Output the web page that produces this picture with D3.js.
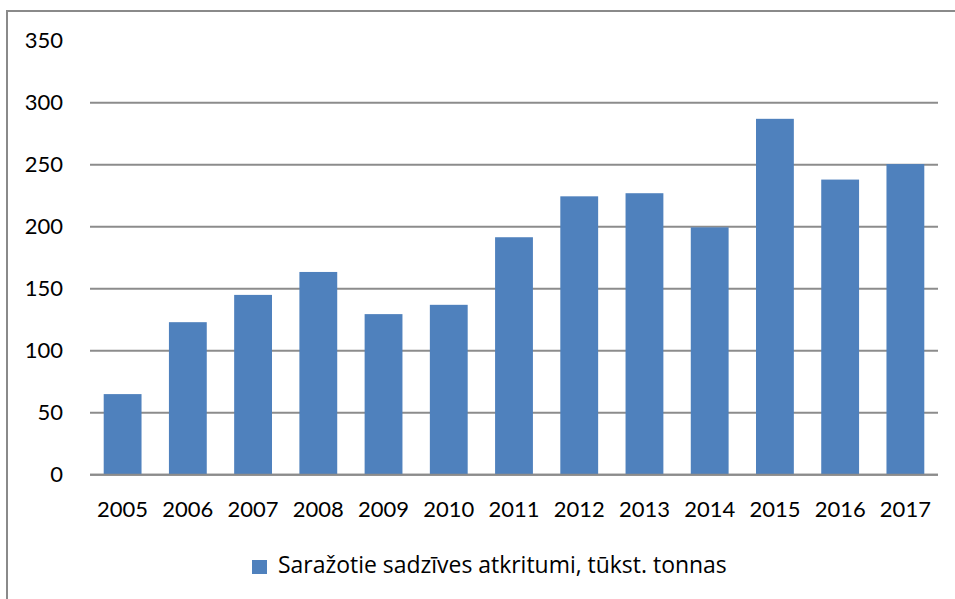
<!DOCTYPE html>
<html>
<head>
<meta charset="utf-8">
<script src="https://cdn.jsdelivr.net/npm/d3@7"></script>
<style>
  body { margin: 0; background: #fff; }
  svg text { font-family: Lato, "Open Sans", sans-serif; fill: #000; }
</style>
</head>
<body>
<svg id="chart" width="955" height="599"></svg>
<script>
// datos
var years = ["2005", "2006", "2007", "2008", "2009", "2010", "2011", "2012", "2013", "2014", "2015", "2016", "2017"];
var values = [65, 123, 145, 163.5, 129.5, 137, 191.5, 224.5, 227, 199.5, 287, 238, 250.5];
var yTicks = [0, 50, 100, 150, 200, 250, 300, 350];
var seriesName = "Saražotie sadzīves atkritumi, tūkst. tonnas";

var svg = d3.select("#chart");
var color = "#4f81bd";

// marco exterior (se corta por la derecha y abajo)
svg.append("rect")
  .attr("x", 7).attr("y", 11)
  .attr("width", 960).attr("height", 600)
  .attr("fill", "none")
  .attr("stroke", "#8a8a8a")
  .attr("stroke-width", 2);

var plotLeft = 90, plotRight = 938, plotTop = 40.7, plotBottom = 474.7;

var x = d3.scaleBand()
  .domain(years)
  .range([plotLeft, plotRight])
  .paddingInner(0.42)
  .paddingOuter(0.21);

var y = d3.scaleLinear()
  .domain([0, 350])
  .range([plotBottom, plotTop]);

// grid (sin la linea de 350)
svg.append("g")
  .selectAll("line")
  .data(yTicks.filter(function(d) { return d < 350; }))
  .enter().append("line")
    .attr("x1", plotLeft).attr("x2", plotRight)
    .attr("y1", function(d) { return y(d); })
    .attr("y2", function(d) { return y(d); })
    .attr("stroke", "#8c8c8c")
    .attr("stroke-width", 2);

// etiquetas eje y
svg.append("g")
  .selectAll("text")
  .data(yTicks)
  .enter().append("text")
    .attr("x", 63)
    .attr("y", function(d) { return y(d); })
    .attr("dy", "0.35em")
    .attr("text-anchor", "end")
    .style("font-size", "22px")
    .text(function(d) { return d; });

// barras
svg.append("g")
  .selectAll("rect")
  .data(values)
  .enter().append("rect")
    .attr("x", function(d, i) { return x(years[i]); })
    .attr("y", function(d) { return y(d); })
    .attr("width", x.bandwidth())
    .attr("height", function(d) { return y(0) - y(d); })
    .attr("fill", color);

// redibujo la linea del cero encima
svg.append("line")
  .attr("x1", plotLeft).attr("x2", plotRight)
  .attr("y1", y(0)).attr("y2", y(0))
  .attr("stroke", "#8c8c8c")
  .attr("stroke-width", 2);

// etiquetas eje x
svg.append("g")
  .selectAll("text")
  .data(years)
  .enter().append("text")
    .attr("x", function(d) { return x(d) + x.bandwidth() / 2; })
    .attr("y", 509)
    .attr("dy", "0.35em")
    .attr("text-anchor", "middle")
    .style("font-size", "22px")
    .text(function(d) { return d; });

// leyenda
var legend = svg.append("g");
legend.append("rect")
  .attr("x", 252).attr("y", 560)
  .attr("width", 15).attr("height", 14)
  .attr("fill", color);
var legendText = legend.append("text")
  .attr("x", 278).attr("y", 565)
  .attr("dy", "0.35em")
  .style("font-family", "'Open Sans', sans-serif")
  .style("font-size", "22px")
  .text(seriesName);
// ajusto el tamaño para que ocupe lo mismo que en la imagen
var w = legendText.node().getComputedTextLength();
legendText.style("font-size", (22 * 449 / w) + "px");
</script>
</body>
</html>
